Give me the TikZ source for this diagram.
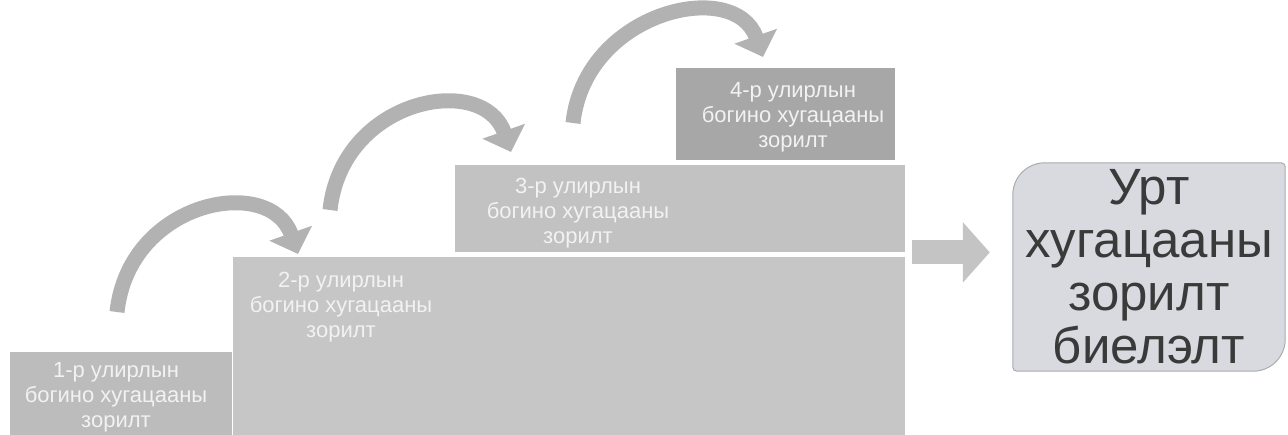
\documentclass[tikz,border=0pt]{standalone}
\usepackage{fontspec}
\setmainfont{Liberation Sans}
\usetikzlibrary{arrows.meta,backgrounds}

\definecolor{stufeA}{HTML}{BCBCBC}
\definecolor{stufeB}{HTML}{C6C6C6}
\definecolor{stufeC}{HTML}{C2C2C2}
\definecolor{stufeD}{HTML}{A7A7A7}
\definecolor{bogengrau}{HTML}{B2B2B2}
\definecolor{pfeilgrau}{HTML}{C4C4C4}
\definecolor{zielfuell}{HTML}{D8DADF}
\definecolor{zielrand}{HTML}{A9ACB2}
\definecolor{zielschrift}{HTML}{3A3A3A}

\begin{document}
\begin{tikzpicture}[
        x=1pt, y=-1pt,
        stufe/.style={fill=#1, draw=none, inner sep=0pt, anchor=north west},
        stufentext/.style={anchor=north, inner sep=0pt, align=center,
                           text=white!95!black,
                           font=\fontsize{22pt}{25pt}\selectfont},
        bogen/.style={draw=bogengrau, line width=15pt,
                      -{Triangle[length=22pt,width=44pt]}},
        blockpfeil/.style={draw=pfeilgrau, line width=24pt,
                           -{Triangle[length=27pt,width=59pt]}},
        zieltext/.style={inner sep=0pt, align=center, text=zielschrift,
                         minimum width=272pt, minimum height=208pt,
                         font=\fontsize{51pt}{53pt}\selectfont},
        zielform/.style={fill=zielfuell, draw=zielrand, line width=1pt}
    ]
        \useasboundingbox (0,0) rectangle (1288,435);
        \clip (0,0) rectangle (1288,435);

        % Stufen
        \node[stufe=stufeA, minimum width=222pt, minimum height=90pt]  (stufe1) at (10,352) {};
        \node[stufe=stufeB, minimum width=672pt, minimum height=185pt] (stufe2) at (233,257) {};
        \node[stufe=stufeC, minimum width=450pt, minimum height=87pt]  (stufe3) at (455,165) {};
        \node[stufe=stufeD, minimum width=219pt, minimum height=92pt]  (stufe4) at (676,68) {};

        \node[stufentext] (text1) at (116,362) {1-р улирлын\\богино хугацааны\\зорилт};
        \node[stufentext] (text2) at (341,272) {2-р улирлын\\богино хугацааны\\зорилт};
        \node[stufentext] (text3) at (578,178) {3-р улирлын\\богино хугацааны\\зорилт};
        \node[stufentext] (text4) at (793,82)  {4-р улирлын\\богино хугацааны\\зорилт};

        % Bögen
        \foreach \n/\tx/\ty/\hx/\hy in {1/117/312/298/254, 2/330/210/511/152, 3/573/123/763/57} {
            \coordinate (fuss\n) at (\tx,\ty);
            \coordinate (spitze\n) at (\hx,\hy);
            \draw[bogen] (fuss\n) .. controls +(12,-112) and +(-28,-80) .. (spitze\n);
        }

        % Ziel
        \node[zieltext] (ziel) at (1149,267) {Урт\\хугацааны\\зорилт\\биелэлт};
        \begin{scope}[on background layer]
            \draw[zielform] (ziel.west) [rounded corners=32pt] -- (ziel.north west) -- (ziel.north)
                [rounded corners=4pt] -- (ziel.north east) -- (ziel.east)
                [rounded corners=32pt] -- (ziel.south east) -- (ziel.south)
                [rounded corners=4pt] -- (ziel.south west) -- cycle;
        \end{scope}

        \coordinate (pfeilstart) at ([xshift=7pt]stufe3.south east);
        \coordinate (pfeilende) at ([xshift=-23pt]ziel.west |- pfeilstart);
        \draw[blockpfeil] (pfeilstart) -- (pfeilende);
    \end{tikzpicture}
\end{document}
